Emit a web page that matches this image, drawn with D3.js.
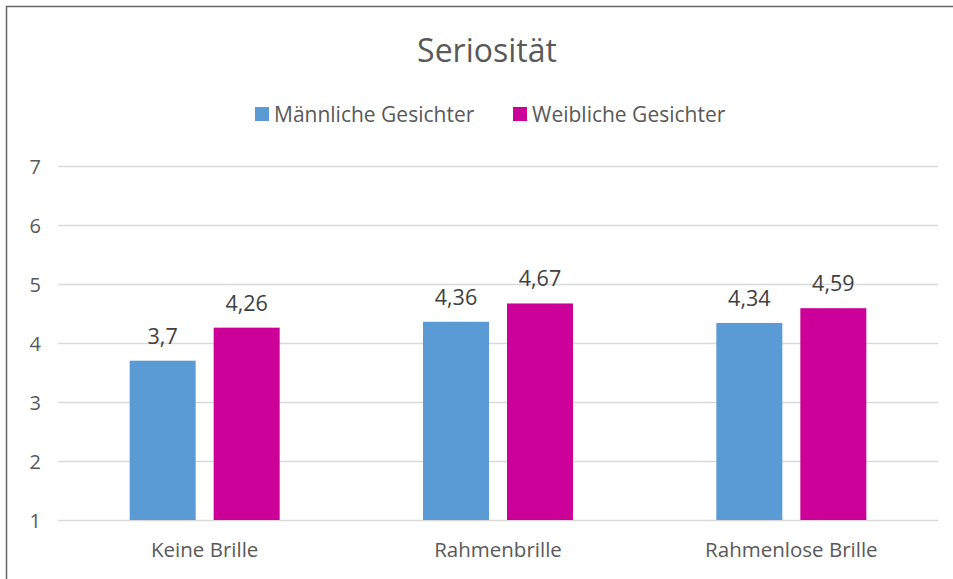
<!DOCTYPE html>
<html><head><meta charset="utf-8">
<script src="https://cdn.jsdelivr.net/npm/d3@7"></script>
<style>body{margin:0;background:#fff}svg{display:block}</style>
</head><body>
<svg id="c" width="953" height="579"></svg>
<script>
const categories = ["Keine Brille", "Rahmenbrille", "Rahmenlose Brille"];
const seriesNames = ["Männliche Gesichter", "Weibliche Gesichter"];
const maleValues = [3.7, 4.36, 4.34];
const femaleValues = [4.26, 4.67, 4.59];
const valueLabels = [["3,7", "4,36", "4,34"], ["4,26", "4,67", "4,59"]];
const yTicks = [1, 2, 3, 4, 5, 6, 7];
const colors = ["#5b9bd5", "#cc0099"];

const svg = d3.select("#c");
const font = "'Open Sans', 'Segoe UI', sans-serif";
const textColor = "#595959";

svg.append("path").attr("d", "M6.5,579 V6.5 H953").attr("fill", "none").attr("stroke", "#666").attr("stroke-width", 1.5);

const x0 = d3.scaleBand().domain(categories).range([58, 938]);
const x1 = d3.scaleBand().domain(seriesNames).range([0, 150]).paddingInner(18/84);
const y = d3.scaleLinear().domain([1, 7]).range([520, 166]);

// grid
svg.append("g").selectAll("line").data(yTicks).join("line")
  .attr("x1", 58).attr("x2", 938)
  .attr("y1", d => y(d) + 0.5).attr("y2", d => y(d) + 0.5)
  .attr("stroke", "#d9d9d9").attr("stroke-width", 1.3);

// y axis labels
const yAxis = d3.axisLeft(y).tickValues(yTicks).tickSize(0).tickPadding(0).tickFormat(d3.format("d"));
const ya = svg.append("g").attr("transform", "translate(41,0)").call(yAxis);
ya.select(".domain").remove();
ya.selectAll("text").attr("font-family", font).attr("font-size", 20).attr("fill", textColor).attr("text-anchor", "end").attr("dy", "0.35em");

// x axis labels
const xAxis = d3.axisBottom(x0).tickSize(0).tickPadding(0);
const xa = svg.append("g").attr("transform", "translate(0,550)").call(xAxis);
xa.select(".domain").remove();
xa.selectAll("text").attr("font-family", font).attr("font-size", 20.5).attr("fill", textColor).attr("dy", "0.32em");

// bars
const series = [maleValues, femaleValues];
series.forEach((vals, si) => {
  const g = svg.append("g");
  const cx = c => x0(c) + x0.bandwidth() / 2 - 75 + x1(seriesNames[si]);
  g.selectAll("rect").data(categories).join("rect")
    .attr("x", c => cx(c))
    .attr("y", (c, i) => y(vals[i]))
    .attr("width", x1.bandwidth())
    .attr("height", (c, i) => y(1) - y(vals[i]))
    .attr("fill", colors[si]);
  g.selectAll("text").data(categories).join("text")
    .attr("x", c => cx(c) + x1.bandwidth() / 2)
    .attr("y", (c, i) => y(vals[i]) - 17)
    .attr("text-anchor", "middle")
    .attr("font-family", font).attr("font-size", 21.5).attr("fill", "#404040")
    .text((c, i) => valueLabels[si][i]);
});

// title
svg.append("text").attr("x", 487).attr("y", 62).attr("text-anchor", "middle")
  .attr("font-family", font).attr("font-size", 32).attr("fill", textColor).text("Seriosität");

// legend
const legendX = [255, 513];
seriesNames.forEach((n, i) => {
  svg.append("rect").attr("x", legendX[i]).attr("y", 107).attr("width", 14).attr("height", 14).attr("fill", colors[i]);
  svg.append("text").attr("x", legendX[i] + 19).attr("y", 122)
    .attr("font-family", font).attr("font-size", 21).attr("fill", textColor).text(n);
});
</script>
</body></html>
